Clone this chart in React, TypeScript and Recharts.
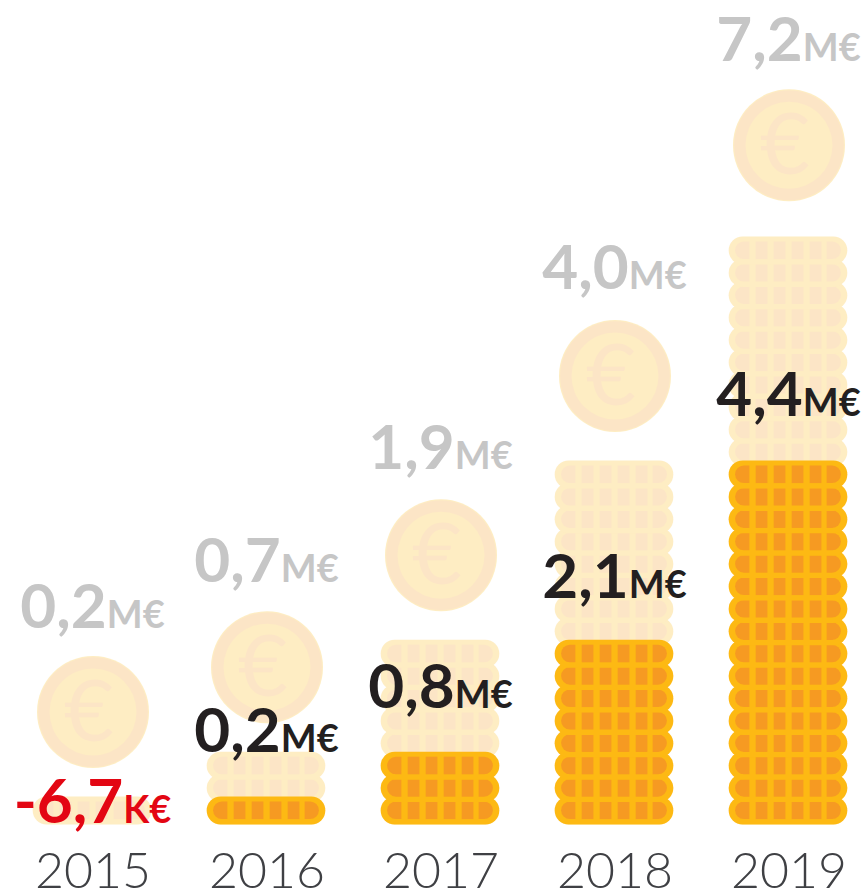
import React from 'react';
import { ComposedChart, Bar, Line, XAxis, YAxis } from 'recharts';

const years = ['2015', '2016', '2017', '2018', '2019'];
const totalCoins = [1, 3, 8, 16, 26];
const netCoins = [0, 1, 3, 8, 16];
const bigCoinLevel = [5, 7, 12, 20, 30.3];
const totalText = ['0,2', '0,7', '1,9', '4,0', '7,2'];
const totalUnit = ['M€', 'M€', 'M€', 'M€', 'M€'];
const netText = ['-6,7', '0,2', '0,8', '2,1', '4,4'];
const netUnit = ['K€', 'M€', 'M€', 'M€', 'M€'];
const netColor = ['#E30613', '#231F20', '#231F20', '#231F20', '#231F20'];
const totalLabelLevel = [8.77, 10.8, 15.85, 23.9, 34.05];
const netLabelLevel = [0.05, 3.2, 5.17, 10.1, 18.2];

const data = years.map((year, i) => ({
  year,
  total: totalCoins[i],
  net: netCoins[i],
  big: bigCoinLevel[i],
  totalLabel: totalLabelLevel[i],
  netLabel: netLabelLevel[i],
}));

const GOLD = '#FDB913';
const AMBER = '#F69A22';
const FONT = 'Lato, sans-serif';
const COIN_H = 28;

function Coin({ x, y, w }: { x: number; y: number; w: number }) {
  const inset = 6.4;
  const innerH = 17.6;
  const iy = y + 5;
  const ix = x + inset;
  const iw = w - inset * 2;
  const r = innerH / 2;
  const seg = 11.7;
  const period = 18;
  const capW = 14.3;
  return (
    <g>
      <rect x={x} y={y} width={w} height={COIN_H} rx={14} fill={GOLD} />
      <path
        d={`M${ix + capW} ${iy} H${ix + r} A${r} ${r} 0 0 0 ${ix + r} ${iy + innerH} H${ix + capW} Z`}
        fill={AMBER}
      />
      {[0, 1, 2, 3].map((k) => (
        <rect key={k} x={ix + capW + 6.3 + k * period} y={iy} width={seg} height={innerH} fill={AMBER} />
      ))}
      <path
        d={`M${ix + iw - capW} ${iy} H${ix + iw - r} A${r} ${r} 0 0 1 ${ix + iw - r} ${iy + innerH} H${ix + iw - capW} Z`}
        fill={AMBER}
      />
    </g>
  );
}

function makePile(counts: number[], opacity: number) {
  return (props: any) => {
    const { x, y, width, height, index } = props;
    const n = counts[index];
    if (!n) return <g />;
    const bottom = y + height;
    const step = height / n;
    return (
      <g opacity={opacity}>
        {Array.from({ length: n }, (_, i) => (
          <Coin key={i} x={x - 1.3} y={bottom - COIN_H + 0.5 - i * step} w={width + 0.6} />
        ))}
      </g>
    );
  };
}

function BigCoin(props: any) {
  const { cx, cy, index } = props;
  return (
    <g key={index} opacity={0.25}>
      <circle cx={cx} cy={cy} r={56} fill={GOLD} />
      <circle cx={cx} cy={cy} r={54.8} fill={AMBER} />
      <circle cx={cx} cy={cy} r={43.5} fill={GOLD} />
      <text x={cx - 4} y={cy + 29} textAnchor="middle" fontFamily={FONT} fontSize={86} fontWeight={400} fill={AMBER}>
        €
      </text>
    </g>
  );
}

function makeValueLabel(texts: string[], units: string[], colors: string[]) {
  return (props: any) => {
    const { x, y, index } = props;
    return (
      <text key={index} x={x - 0.5} y={y} textAnchor="middle" fontFamily={FONT} fontWeight={700} fill={colors[index]}>
        <tspan fontSize={62}>{texts[index]}</tspan>
        <tspan fontSize={38}>{units[index]}</tspan>
      </text>
    );
  };
}

const greys = years.map(() => '#C6C6C6');

export default function App() {
  return (
    <div style={{ position: 'absolute', left: 0, top: 0, width: 865, height: 892, overflow: 'hidden' }}>
      <ComposedChart
        width={880}
        height={892}
        data={data}
        margin={{ top: 0, right: 4, bottom: 0, left: 6 }}
        barSize={118}
        barGap={-118}
      >
        <XAxis
          dataKey="year"
          axisLine={false}
          tickLine={false}
          height={68}
          tickMargin={22}
          interval={0}
          tick={{ fontFamily: FONT, fontSize: 50, fontWeight: 300, fill: '#3F4044' }}
        />
        <YAxis hide domain={[0, 824 / 22.4]} />
        <Bar dataKey="total" isAnimationActive={false} shape={makePile(totalCoins, 0.25)} />
        <Line
          dataKey="big"
          stroke="none"
          isAnimationActive={false}
          dot={(p: any) => <BigCoin {...p} />}
          activeDot={false}
        />
        <Bar dataKey="net" isAnimationActive={false} shape={makePile(netCoins, 1)} />
        <Line
          dataKey="totalLabel"
          stroke="none"
          dot={false}
          activeDot={false}
          isAnimationActive={false}
          label={makeValueLabel(totalText, totalUnit, greys)}
        />
        <Line
          dataKey="netLabel"
          stroke="none"
          dot={false}
          activeDot={false}
          isAnimationActive={false}
          label={makeValueLabel(netText, netUnit, netColor)}
        />
      </ComposedChart>
    </div>
  );
}
